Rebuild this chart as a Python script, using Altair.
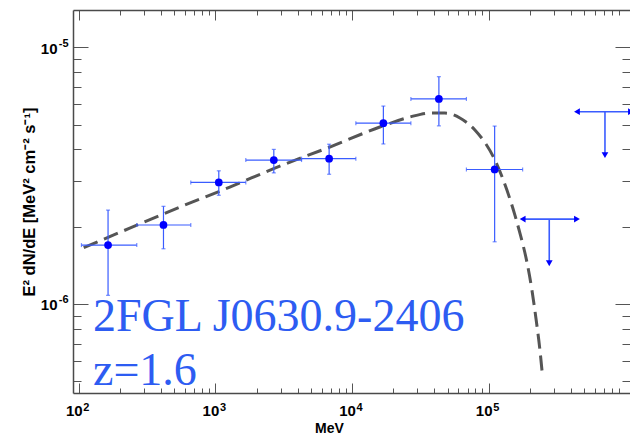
import altair as alt
import pandas as pd

# ---- data ----
energy    = [163.9, 417.0, 1059, 2676, 6796, 16950, 43190, 110500]
energy_lo = [104.7, 265.9, 660.6, 1669, 4269, 10660, 26950, 68680]
energy_hi = [265.9, 660.6, 1669, 4269, 10660, 26950, 68680, 177100]
flux      = [1.695e-6, 2.03e-6, 2.975e-6, 3.635e-6, 3.68e-6, 5.06e-6, 6.29e-6, 3.34e-6]
flux_lo   = [1.08e-6, 1.64e-6, 2.65e-6, 3.24e-6, 3.20e-6, 4.20e-6, 4.94e-6, 1.746e-6]
flux_hi   = [2.32e-6, 2.40e-6, 3.30e-6, 4.00e-6, 4.19e-6, 5.90e-6, 7.68e-6, 4.93e-6]

ul_energy = [277300, 709000]
ul_lo     = [177100, 442300]
ul_hi     = [442300, 1099000]
ul_flux   = [2.14e-6, 5.61e-6]
ul_tip    = [1.44e-6, 3.80e-6]

model_e = [108.8, 236.3, 549, 1275, 2960, 6877, 15970, 26500, 37110, 47790, 61540,
           79250, 111000, 135900, 155500, 169200, 190400, 207200, 221600, 237100, 247300]
model_f = [1.656e-6, 1.973e-6, 2.383e-6, 2.852e-6, 3.443e-6, 4.085e-6, 4.889e-6,
           5.348e-6, 5.543e-6, 5.543e-6, 5.300e-6, 4.759e-6, 3.635e-6, 2.776e-6,
           2.218e-6, 1.887e-6, 1.454e-6, 1.131e-6, 8.795e-7, 6.597e-7, 5.27e-7]

source_name = "2FGL J0630.9-2406"
redshift_label = "z=1.6"
x_title = "MeV"
y_title = "E² dN/dE [MeV² cm⁻² s⁻¹]"

x_domain = [90.8, 1.081e6]
y_domain = [4.496e-7, 1.397e-5]
x_major = [1e2, 1e3, 1e4, 1e5]
x_minor = [m * 10 ** d for d in range(2, 6) for m in range(2, 10)]
y_major = [1e-6, 1e-5]
y_minor = [m * 10.0 ** d for d in (-7, -6) for m in range(2, 10) if m * 10.0 ** d >= 4.5e-7]

# ---- tables ----
pts = pd.DataFrame({"E": energy, "E_lo": energy_lo, "E_hi": energy_hi,
                    "F": flux, "F_lo": flux_lo, "F_hi": flux_hi})
uls = pd.DataFrame({"E": ul_energy, "E_lo": ul_lo, "E_hi": ul_hi,
                    "F": ul_flux, "F_tip": ul_tip})
model = pd.DataFrame({"E": model_e, "F": model_f})

# ---- styles ----
PT = "#0000ff"
EB = "#3a5cff"
TXT = "#2d5cf2"
FRAME = "#4a4a4a"
TICK = "#555555"
FONT = "Liberation Sans"

BASE_LABEL = "'10'"
EXP_LABEL = "'' + round(log(datum.value)/LN10)"

base = dict(grid=False, tickColor=TICK, tickWidth=1, labelOverlap=False,
            labelFlush=False, labelBound=False, labelFont=FONT,
            labelFontWeight="bold", labelColor="black")


def tick_axis(orient, values, size, label=None, **kw):
    extra = dict(labelExpr=label, **kw) if label else dict(labels=False)
    return alt.Axis(orient=orient, values=values, tickSize=size, offset=-size,
                    domain=False, title=None, **extra, **base)


def exp_axis(orient, values, **kw):
    return alt.Axis(orient=orient, values=values, ticks=False, tickSize=0,
                    domain=False, title=None, labelExpr=EXP_LABEL, labelFontSize=11,
                    **kw, **base)


def frame_axis(orient, **kw):
    return alt.Axis(orient=orient, ticks=False, labels=False, domain=True,
                    domainColor=FRAME, domainWidth=1.5, grid=False, **kw)


xs = alt.Scale(type="log", domain=x_domain, nice=False)
ys = alt.Scale(type="log", domain=y_domain, nice=False)

ax_bottom = tick_axis("bottom", x_major, 10, label=BASE_LABEL, labelFontSize=15,
                      labelPadding=10, labelAlign="center", labelBaseline="top",
                      labelOffset=-5)
ax_left = tick_axis("left", y_major, 15, label=BASE_LABEL, labelFontSize=15,
                    labelPadding=16, labelAlign="right", labelBaseline="middle",
                    labelOffset=1)


def X(f):
    return alt.X(f, type="quantitative", scale=xs, axis=ax_bottom)


def Y(f):
    return alt.Y(f, type="quantitative", scale=ys, axis=ax_left)


curve = alt.Chart(model).mark_line(color="#555555", strokeWidth=3, strokeDash=[15, 7],
                                   interpolate="monotone", clip=True).encode(
    x=X("E"), y=Y("F"))

vbar = alt.Chart(pts).mark_rule(color=EB, strokeWidth=1.2).encode(
    x=X("E"), y=Y("F_lo"), y2="F_hi")
hbar = alt.Chart(pts).mark_rule(color=EB, strokeWidth=1.2).encode(
    x=X("E_lo"), x2="E_hi", y=Y("F"))
cap_lo = alt.Chart(pts).mark_tick(orient="horizontal", color=EB, size=4, thickness=1.2).encode(
    x=X("E"), y=Y("F_lo"))
cap_hi = alt.Chart(pts).mark_tick(orient="horizontal", color=EB, size=4, thickness=1.2).encode(
    x=X("E"), y=Y("F_hi"))
cap_l = alt.Chart(pts).mark_tick(orient="vertical", color=EB, size=4, thickness=1.2).encode(
    x=X("E_lo"), y=Y("F"))
cap_r = alt.Chart(pts).mark_tick(orient="vertical", color=EB, size=4, thickness=1.2).encode(
    x=X("E_hi"), y=Y("F"))
dots = alt.Chart(pts).mark_circle(color=PT, size=60, opacity=1).encode(x=X("E"), y=Y("F"))

ul_h = alt.Chart(uls).mark_rule(color=EB, strokeWidth=1.6, clip=True).encode(
    x=X("E_lo"), x2="E_hi", y=Y("F"))
ul_v = alt.Chart(uls).mark_rule(color=EB, strokeWidth=1.6).encode(
    x=X("E"), y=Y("F"), y2="F_tip")
ul_l = alt.Chart(uls).mark_point(shape="triangle-left", filled=True, color=PT, size=45,
                                 opacity=1).encode(x=X("E_lo"), y=Y("F"))
ul_r = alt.Chart(uls).mark_point(shape="triangle-right", filled=True, color=PT, size=45,
                                 opacity=1, clip=True).encode(x=X("E_hi"), y=Y("F"))
ul_d = alt.Chart(uls).mark_point(shape="triangle-down", filled=True, color=PT, size=45,
                                 opacity=1).encode(x=X("E"), y=Y("F_tip"))

one = alt.Data(values=[{}])
txt1 = alt.Chart(one).mark_text(text=source_name, align="left", baseline="alphabetic",
                                font="Liberation Serif", fontSize=46, color=TXT).encode(
    x=alt.value(20), y=alt.value(321))
txt2 = alt.Chart(one).mark_text(text=redshift_label, align="left", baseline="alphabetic",
                                font="Liberation Serif", fontSize=46, color=TXT).encode(
    x=alt.value(20), y=alt.value(375))

main = alt.layer(curve, vbar, hbar, cap_lo, cap_hi, cap_l, cap_r, ul_h, ul_v,
                 ul_l, ul_r, ul_d, dots, txt1, txt2)


def guide_layer(xaxis, yaxis):
    return alt.Chart(pts).mark_point(opacity=0).encode(
        x=alt.X("E", type="quantitative", scale=xs, axis=xaxis),
        y=alt.Y("F", type="quantitative", scale=ys, axis=yaxis))


exps = guide_layer(
    exp_axis("bottom", x_major, labelPadding=8, labelAlign="left",
             labelBaseline="top", labelOffset=4),
    exp_axis("left", y_major, labelPadding=5, labelAlign="right",
             labelBaseline="middle", labelOffset=-4))
minor_bl = guide_layer(tick_axis("bottom", x_minor, 5), tick_axis("left", y_minor, 8))
major_tr = guide_layer(tick_axis("top", x_major, 10), tick_axis("right", y_major, 15))
minor_tr = guide_layer(tick_axis("top", x_minor, 5), tick_axis("right", y_minor, 8))
frame_bl = guide_layer(
    frame_axis("bottom", title=x_title, titleFont=FONT, titleFontWeight="bold",
               titleFontSize=14, titleColor="black", titleX=256, titleY=35,
               titleAlign="center", titleBaseline="middle"),
    frame_axis("left", title=y_title, titleFont=FONT, titleFontWeight="bold",
               titleFontSize=16.5, titleColor="black", titleAngle=-90, titleX=-44,
               titleY=191.5, titleAlign="center", titleBaseline="middle"))
frame_t = guide_layer(frame_axis("top", title=None), None)

chart = alt.layer(main, exps, minor_bl, major_tr, minor_tr, frame_bl, frame_t).resolve_scale(
    x="independent", y="independent").properties(
    width=557, height=383,
    padding={"left": 73, "top": 10, "right": 0, "bottom": 45},
    autosize=alt.AutoSizeParams(type="none"),
    background="white",
).configure_view(stroke=None)

chart.save("out.html", embed_options={"renderer": "svg", "actions": False})
